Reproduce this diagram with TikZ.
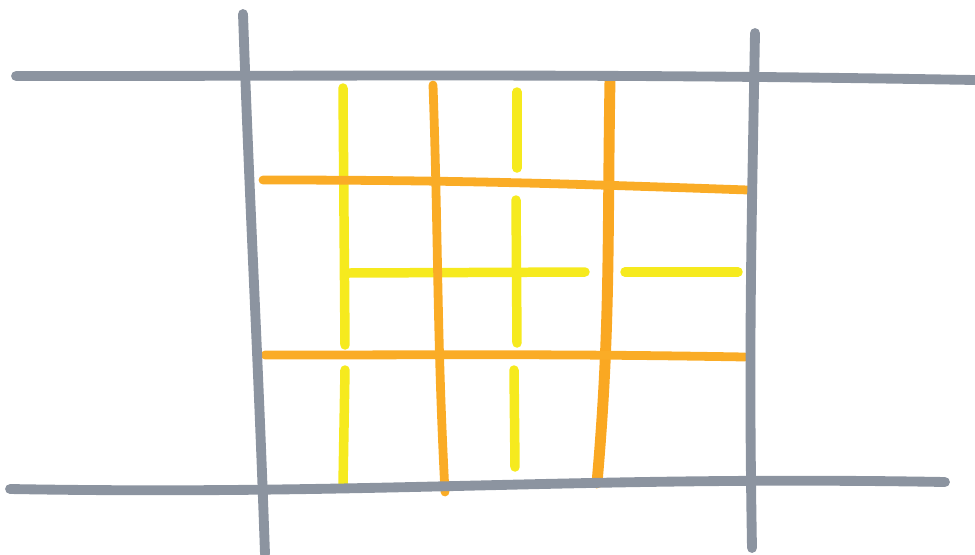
\documentclass[tikz,border=0pt]{standalone}
\definecolor{slate}{RGB}{140,148,160}
\definecolor{amber}{RGB}{250,172,38}
\definecolor{lemon}{RGB}{246,234,30}
\tikzset{
  grayline/.style={slate,line width=2.8pt,line cap=round},
  orangeline/.style={amber,line width=2.5pt,line cap=round},
  yellowline/.style={lemon,line width=2.7pt,line cap=round}
}
\begin{document}
\begin{tikzpicture}[x=0.01cm,y=-0.01cm]
    \useasboundingbox (0,0) rectangle (975,554);
    % Yellow lines (finest grid)
    \draw[yellowline] (343,88) -- (345,345);
    \draw[yellowline] (345,370) -- (343,485);
    \draw[yellowline] (517,92) -- (517,168);
    \draw[yellowline] (516,200) -- (517,343);
    \draw[yellowline] (514,370) -- (515,467);
    \draw[yellowline] (348,273) -- (585,272);
    \draw[yellowline] (625,272) -- (738,272);
    % Orange lines
    \draw[orangeline] (433,85) to[out=-88,in=93] (445,492);
    \draw[orangeline,line width=3.1pt,amber!90!orange] (610,80) to[out=-91,in=85] (597,483);
    \draw[orangeline] (263,180) to[out=0,in=178] (748,190);
    \draw[orangeline] (265,355) to[out=0,in=179] (745,357);
    % Gray lines (outer frame)
    \draw[grayline] (16,76) to[out=0,in=179] (975,80);
    \draw[grayline] (10,489) to[out=-1,in=179] (945,482);
    \draw[grayline] (243,14) to[out=-88,in=92] (265,554);
    \draw[grayline] (755,33) to[out=-91,in=91] (752,548);
\end{tikzpicture}
\end{document}
